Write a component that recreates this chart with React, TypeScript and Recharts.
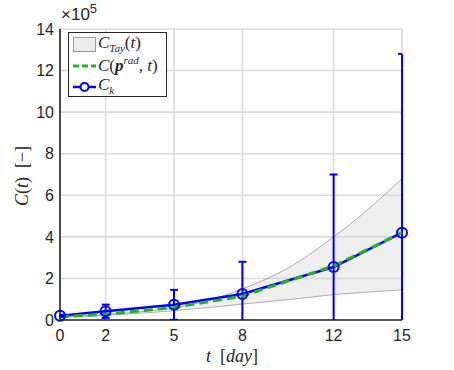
import React from "react";
import {
  ComposedChart,
  Area,
  Line,
  ErrorBar,
  XAxis,
  YAxis,
  CartesianGrid,
} from "recharts";

// values in units of 1e5
const bandDays = [0, 1, 2, 3, 4, 5, 6, 7, 8, 9, 10, 11, 12, 13, 14, 15];
const tayLow = [0.12, 0.17, 0.22, 0.29, 0.36, 0.45, 0.55, 0.65, 0.77, 0.87, 0.98, 1.1, 1.22, 1.3, 1.38, 1.45];
const tayHigh = [0.15, 0.2, 0.27, 0.35, 0.45, 0.6, 0.8, 1.1, 1.5, 1.95, 2.5, 3.2, 4.0, 4.85, 5.8, 6.8];

const sampleDays = [0, 2, 5, 8, 12, 15];
const ck = [0.2, 0.42, 0.73, 1.25, 2.55, 4.2];
const ckErr = [0.05, 0.32, 0.72, 1.55, 4.45, 8.6];
const cRad = [0.15, 0.28, 0.6, 1.15, 2.6, 4.2];

const yTicks = [0, 2, 4, 6, 8, 10, 12, 14];
const Y_MIN = 0;

const data = bandDays.map((t, i) => {
  const k = sampleDays.indexOf(t);
  if (k < 0) return { t, band: [tayLow[i], tayHigh[i]] };
  const lo = ck[k] - ckErr[k];
  return {
    t,
    band: [tayLow[i], tayHigh[i]],
    ck: ck[k],
    // error below is cut at the axis floor
    err: [ck[k] - Math.max(lo, Y_MIN), ckErr[k]],
    errTop: ck[k] + ckErr[k],
    errBottom: lo > Y_MIN ? lo : undefined,
    crad: cRad[k],
  };
});

const tickFont = { fontFamily: "Liberation Sans, Arial, sans-serif", fontSize: 16, fill: "#262626" };
const serif = "'Liberation Serif', 'DejaVu Serif', serif";

const Cap = (props: any) => {
  const { cx, cy, key } = props;
  if (cx == null || cy == null) return <g key={key} />;
  return <line key={key} x1={cx - 4} x2={cx + 4} y1={cy} y2={cy} stroke="#0000ff" strokeWidth={2} />;
};

export default function App() {
  return (
    <div style={{ position: "absolute", left: 0, top: 0, width: 454, height: 370, background: "#fff" }}>
      <ComposedChart
        width={454}
        height={370}
        data={data}
        margin={{ top: 29, right: 52, bottom: 20, left: 20 }}
      >
        <CartesianGrid stroke="#dadada" strokeWidth={1.6} />
        <XAxis
          dataKey="t"
          type="number"
          domain={[0, 15]}
          ticks={sampleDays}
          allowDataOverflow
          height={30}
          tickSize={0}
          tickMargin={10}
          tick={tickFont}
          axisLine={{ stroke: "#262626", strokeWidth: 1.6 }}
        />
        <YAxis
          type="number"
          domain={[Y_MIN, 14]}
          ticks={yTicks}
          allowDataOverflow
          width={40}
          tickSize={0}
          tickMargin={6}
          tick={tickFont}
          axisLine={{ stroke: "#262626", strokeWidth: 1.6 }}
        />
        <Area
          dataKey="band"
          type="monotone"
          stroke="#7a7a7a"
          strokeWidth={0.6}
          fill="#d0d0d0"
          fillOpacity={0.35}
          isAnimationActive={false}
        />
        <Line
          dataKey="ck"
          connectNulls
          stroke="#0000ff"
          strokeWidth={2.5}
          dot={{ r: 5, fill: "none", stroke: "#0000ff", strokeWidth: 2, clipDot: false }}
          activeDot={false}
          isAnimationActive={false}
        >
          <ErrorBar dataKey="err" direction="y" width={0} stroke="#0000ff" strokeWidth={2} />
        </Line>
        <Line
          dataKey="errTop"
          stroke="none"
          dot={<Cap />}
          activeDot={false}
          isAnimationActive={false}
          legendType="none"
        />
        <Line
          dataKey="errBottom"
          stroke="none"
          dot={<Cap />}
          activeDot={false}
          isAnimationActive={false}
          legendType="none"
        />
        <Line
          dataKey="crad"
          connectNulls
          stroke="#22b322"
          strokeWidth={3}
          strokeDasharray="9 5"
          dot={false}
          activeDot={false}
          isAnimationActive={false}
        />
      </ComposedChart>

      {/* exponent */}
      <div style={{ position: "absolute", left: 61, top: 4, fontFamily: "Liberation Sans, Arial, sans-serif", fontSize: 17, color: "#262626", lineHeight: "22px" }}>
        ×10<span style={{ fontSize: 13, position: "relative", top: -7 }}>5</span>
      </div>

      {/* y label */}
      <div
        style={{
          position: "absolute",
          left: 22,
          top: 176,
          transform: "translate(-50%, -50%) rotate(-90deg)",
          fontFamily: serif,
          fontSize: 18,
          color: "#262626",
          whiteSpace: "nowrap",
        }}
      >
        <i>C</i>(<i>t</i>)&nbsp;&nbsp;[−]
      </div>

      {/* x label */}
      <div
        style={{
          position: "absolute",
          left: 232,
          top: 356,
          transform: "translate(-50%, -50%)",
          fontFamily: serif,
          fontSize: 18,
          color: "#262626",
          whiteSpace: "nowrap",
        }}
      >
        <i>t</i>&nbsp;&nbsp;[<i>day</i>]
      </div>

      {/* legend */}
      <div
        style={{
          position: "absolute",
          left: 68,
          top: 32,
          width: 97,
          height: 63,
          border: "1.5px solid #262626",
          background: "#fff",
          fontFamily: serif,
          fontSize: 17,
          color: "#262626",
        }}
      >
        <div style={{ position: "absolute", left: 4, top: 4, width: 23, height: 15, background: "#ececec", border: "1px solid #9a9a9a", boxSizing: "border-box" }} />
        <div style={{ position: "absolute", left: 29, top: 0, whiteSpace: "nowrap" }}>
          <i>C</i><sub style={{ fontSize: 11 }}><i>Tay</i></sub>(<i>t</i>)
        </div>
        <svg style={{ position: "absolute", left: 0, top: 0 }} width={30} height={63}>
          <line x1={4} y1={33} x2={27} y2={33} stroke="#22b322" strokeWidth={3} strokeDasharray="6 3" />
          <line x1={4} y1={54} x2={27} y2={54} stroke="#0000ff" strokeWidth={2.5} />
          <circle cx={15.5} cy={54} r={4} fill="#fff" stroke="#0000ff" strokeWidth={2} />
        </svg>
        <div style={{ position: "absolute", left: 29, top: 21, whiteSpace: "nowrap" }}>
          <i>C</i>(<b><i>p</i></b><sup style={{ fontSize: 11 }}><i>rad</i></sup>, <i>t</i>)
        </div>
        <div style={{ position: "absolute", left: 29, top: 42, whiteSpace: "nowrap" }}>
          <i>C</i><sub style={{ fontSize: 11 }}><i>k</i></sub>
        </div>
      </div>
    </div>
  );
}
